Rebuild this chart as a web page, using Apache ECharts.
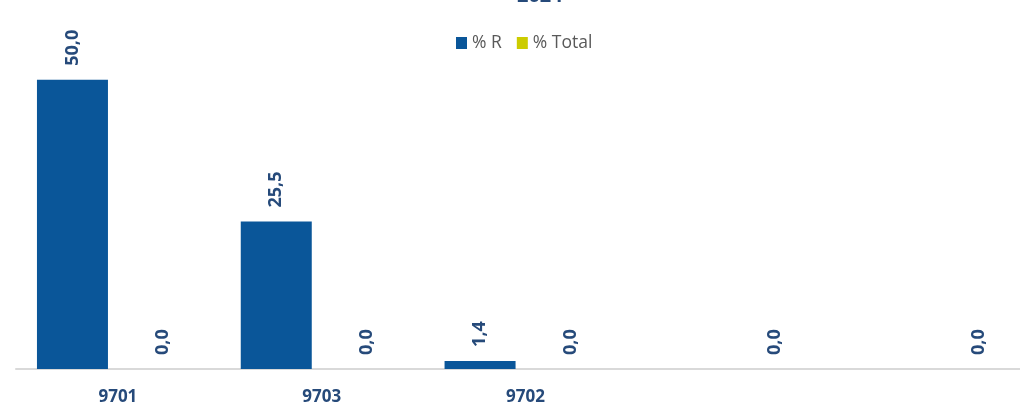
<!DOCTYPE html>
<html><head><meta charset="utf-8">
<script src="https://cdn.jsdelivr.net/npm/echarts@6/dist/echarts.min.js"></script>
<style>html,body{margin:0;padding:0;background:#fff;overflow:hidden}#c{width:1035px;height:406px}</style>
</head><body><div id="c"></div>
<script>
const categories = ['9701', '9703', '9702', '', ''];
const seriesR = [50.0, 25.5, 1.4, null, null];
const seriesTotal = [0.0, 0.0, 0.0, 0.0, 0.0];
const titleText = '2024';

const chart = echarts.init(document.getElementById('c'));
const fmt = p => (p.value == null ? '' : Number(p.value).toFixed(1).replace('.', ','));
const lbl = {
  show: true, position: 'top', rotate: 90, distance: 14, align: 'left', verticalAlign: 'middle',
  color: '#264A7A', fontFamily: 'Open Sans', fontWeight: 'bold', fontSize: 18, formatter: fmt
};
chart.setOption({
  animation: false,
  title: { text: titleText, left: 512, top: -19, textStyle: { color: '#264A7A', fontFamily: 'Open Sans', fontWeight: 'bold', fontSize: 20 } },
  legend: { top: 29, left: 451, itemWidth: 11, itemHeight: 12, itemGap: 15, icon: 'rect',
    textStyle: { color: '#595959', fontFamily: 'Open Sans', fontSize: 17.5 } },
  grid: { left: 16, right: 0, top: 22, bottom: 37, containLabel: false },
  xAxis: { type: 'category', data: categories,
    axisLine: { lineStyle: { color: '#D9D9D9', width: 2 } }, axisTick: { show: false },
    axisLabel: { color: '#264A7A', fontFamily: 'Open Sans', fontWeight: 'bold', fontSize: 17, margin: 20 } },
  yAxis: { type: 'value', min: 0, max: 60, show: false, splitLine: { show: false } },
  series: [
    { name: '% R', type: 'bar', data: seriesR, barWidth: 71, barGap: '28%', itemStyle: { color: '#0A5699' }, label: lbl },
    { name: '% Total', type: 'bar', data: seriesTotal, barWidth: 71, itemStyle: { color: '#CCCC00' }, label: lbl }
  ]
});
</script></body></html>
